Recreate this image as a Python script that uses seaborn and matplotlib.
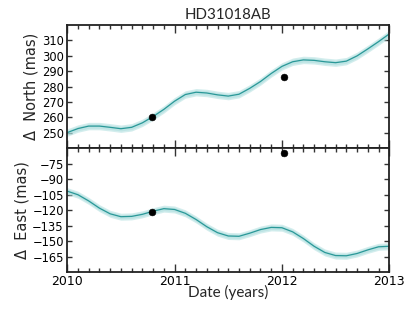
import numpy as np
import pandas as pd
import matplotlib
matplotlib.use("Agg")
import matplotlib.pyplot as plt
from matplotlib.ticker import MultipleLocator
import seaborn as sns

# ---- data ----
epochs = [2010.0, 2010.1, 2010.2, 2010.3, 2010.4, 2010.5, 2010.6, 2010.7, 2010.8, 2010.9,
          2011.0, 2011.1, 2011.2, 2011.3, 2011.4, 2011.5, 2011.6, 2011.7, 2011.8, 2011.9,
          2012.0, 2012.1, 2012.2, 2012.3, 2012.4, 2012.5, 2012.6, 2012.7, 2012.8, 2012.9,
          2013.0]
north_track = [250.2, 252.8, 254.4, 254.4, 253.6, 252.7, 253.6, 256.5, 260.6, 265.2,
               270.5, 274.8, 276.3, 275.8, 274.6, 273.8, 275.0, 278.8, 283.2, 288.4,
               293.0, 296.0, 297.2, 296.9, 296.0, 295.4, 296.4, 299.8, 304.3, 309.0,
               314.0]
east_track = [-101.5, -105.0, -111.0, -118.0, -123.5, -126.3, -126.0, -124.0, -121.0, -118.5,
              -119.3, -123.0, -129.0, -136.0, -141.8, -145.0, -145.3, -142.3, -138.8, -136.7,
              -137.0, -141.0, -147.5, -155.0, -161.0, -164.0, -164.2, -162.0, -158.5, -155.5,
              -155.0]
north_err = 2.4
east_err = 3.4

obs_dates = [2010.79, 2012.02]
obs_north = [260.1, 286.4]
obs_east = [-121.4, -64.3]

title = "HD31018AB"
north_label = "Δ  North (mas)"
east_label = "Δ  East (mas)"
x_label = "Date (years)"

track = pd.DataFrame({"t": epochs, "north": north_track, "east": east_track})
obs = pd.DataFrame({"t": obs_dates, "north": obs_north, "east": obs_east})

sns.set_style("ticks")
plt.rcParams["font.family"] = ["DejaVu Sans"]

fig, (ax1, ax2) = plt.subplots(2, 1, sharex=True, figsize=(4.15, 3.12), dpi=100)
fig.subplots_adjust(left=0.162, right=0.938, top=0.921, bottom=0.128, hspace=0)

line_c = "#2a9898"
band_c = "#a8dcdc"

for ax, col, err in [(ax1, "north", north_err), (ax2, "east", east_err)]:
    y = np.array(track[col])
    ax.fill_between(track["t"], y - err, y + err, color=band_c, alpha=0.5, lw=0)
    ax.fill_between(track["t"], y - err * 0.6, y + err * 0.6, color=band_c, alpha=0.5, lw=0)
    sns.lineplot(data=track, x="t", y=col, ax=ax, color=line_c, lw=0.9)
    sns.scatterplot(data=obs, x="t", y=col, ax=ax, color="black", s=24,
                    edgecolor="black", zorder=5, clip_on=False)
    ax.set_xlim(2010, 2013)
    ax.xaxis.set_major_locator(MultipleLocator(1))
    ax.xaxis.set_minor_locator(MultipleLocator(0.1))
    ax.tick_params(axis="both", which="both", direction="in", top=True, right=True,
                   width=1.0, colors="#333333", labelcolor="black")
    ax.tick_params(axis="y", labelsize=8.3, length=3.5, pad=2.5)
    ax.tick_params(axis="x", which="major", length=6, labelsize=9)
    ax.tick_params(axis="x", which="minor", length=3)
    for s in ax.spines.values():
        s.set_linewidth(1.3)
        s.set_color("#222222")
    ax.set_xlabel("")

ax1.set_ylim(240, 320)
ax1.set_yticks([250, 260, 270, 280, 290, 300, 310])
ax2.set_ylim(-180, -60)
ax2.set_yticks([-75, -90, -105, -120, -135, -150, -165])
ax2.set_yticklabels(["\u221275", "\u221290", "\u2212105", "\u2212120", "\u2212135", "\u2212150", "\u2212165"])
ax2.set_xticks([2010, 2011, 2012, 2013])
ax2.set_xticklabels(["2010", "2011", "2012", "2013"])
ax2.tick_params(axis="x", pad=2)

ax1.set_ylabel(north_label, fontsize=10.5, labelpad=2)
ax2.set_ylabel(east_label, fontsize=10.5, labelpad=2)
ax1.set_title(title, fontsize=10.8, family=["Lato", "DejaVu Sans"], pad=4)
ax2.set_xlabel(x_label, fontsize=11, family=["Lato", "DejaVu Sans"], labelpad=-2)

fig.savefig("out.png", dpi=100)
